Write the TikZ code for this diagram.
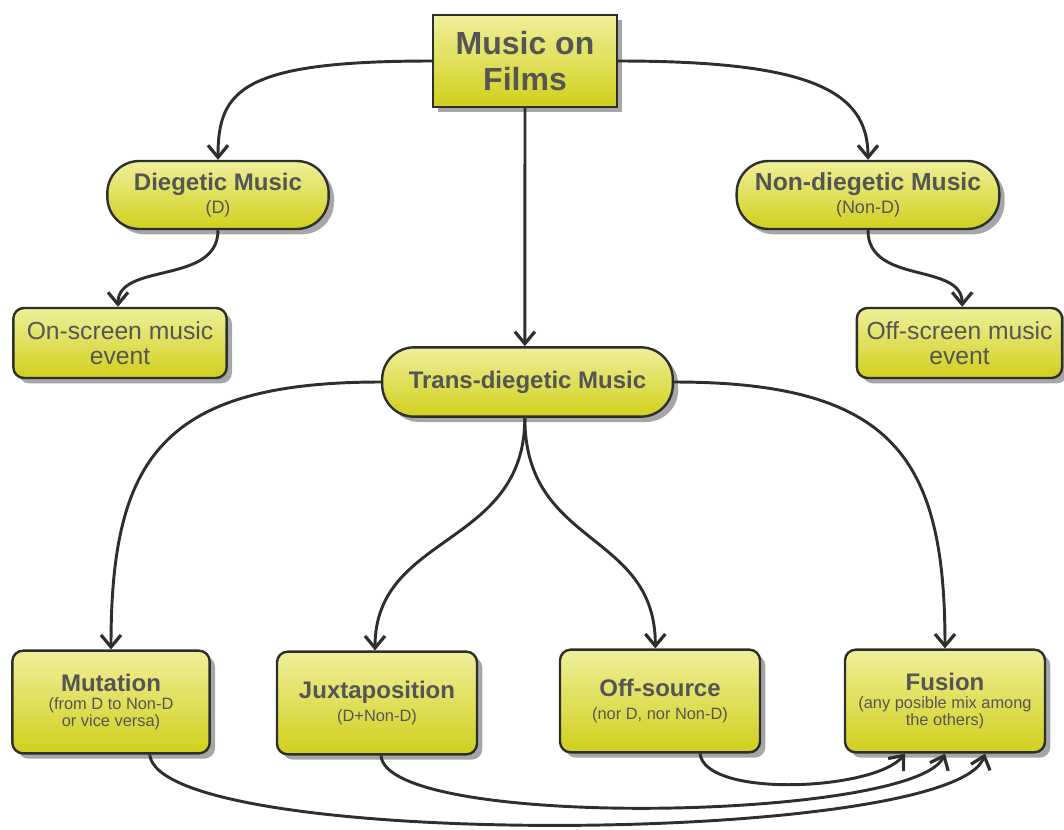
\documentclass[tikz,border=0pt]{standalone}
\usepackage{fontspec}
\setmainfont{Liberation Sans}
\usetikzlibrary{arrows.meta,shadows}
\definecolor{txt}{HTML}{555555}
\definecolor{ln}{HTML}{2E2E2E}
\definecolor{ytop}{HTML}{EFEF9A}
\definecolor{ybot}{HTML}{D0D01C}
\newcommand\ttlf{\fontsize{24}{27.5}\selectfont\bfseries}
\newcommand\mainf{\fontsize{18}{19}\selectfont\bfseries}
\newcommand\plainf{\fontsize{18.5}{19}\selectfont}
\newcommand\subtf{\fontsize{13.5}{15}\selectfont}
\newcommand\subbf{\fontsize{12.3}{13}\selectfont}
\tikzset{
  box/.style={draw=ln, line width=1.8pt, top color=ytop, bottom color=ybot,
    text=txt, align=center, inner sep=2pt,
    drop shadow={shadow xshift=4pt, shadow yshift=-4pt, fill=black!50, opacity=0.7}},
  pill/.style={box, rounded corners=24pt},
  rbox/.style={box, rounded corners=8pt},
  conn/.style={draw=ln, line width=2.2pt,
    -{Straight Barb[length=9pt,width=15pt,line width=2.4pt]}}
}
\begin{document}
\begin{tikzpicture}[x=0.75pt,y=-0.75pt]
\useasboundingbox (0,0) rectangle (1064,829);
% nodes
\node[box, minimum width=138pt, minimum height=69pt, font=\ttlf] (music) at (525,61)
  {Music on\\Films};
\node[pill, minimum width=166pt, minimum height=51pt, font=\subtf] (dieg) at (218,195)
  {{\mainf Diegetic Music}\\[2pt](D)};
\node[pill, minimum width=197pt, minimum height=51pt, font=\subtf] (nond) at (868,195)
  {{\fontsize{18.5}{19}\selectfont\bfseries Non-diegetic Music}\\[2pt](Non-D)};
\node[rbox, minimum width=160pt, minimum height=52.5pt, font=\plainf] (onscr) at (120,343)
  {On-screen music\\event};
\node[rbox, minimum width=154pt, minimum height=52.5pt, font=\plainf] (offscr) at (959.5,343)
  {Off-screen music\\event};
\node[pill, minimum width=218pt, minimum height=52pt, font=\mainf] (trans) at (527.5,382)
  {Trans-diegetic Music};
\node[rbox, minimum width=148pt, minimum height=77pt, font=\subbf] (mut) at (111,702)
  {{\mainf Mutation}\\(from D to Non-D\\or vice versa)};
\node[rbox, minimum width=150pt, minimum height=77pt, font=\subbf] (jux) at (377,703)
  {{\mainf Juxtaposition}\\[4pt](D+Non-D)};
\node[rbox, minimum width=150pt, minimum height=77pt, font=\subbf] (offsrc) at (660,701)
  {{\mainf Off-source}\\[4pt](nor D, nor Non-D)};
\node[rbox, minimum width=150pt, minimum height=77pt, font=\subbf] (fus) at (945,701)
  {{\mainf Fusion}\\(any posible mix among\\the others)};
% connectors
\draw[conn] (music.west) .. controls +(-190,0) and +(0,-70) .. (dieg.north);
\draw[conn] (music.east) .. controls +(190,0) and +(0,-70) .. (nond.north);
\draw[conn] (music.south) -- ([xshift=-2pt]trans.north);
\draw[conn] (dieg.south) .. controls +(0,55) and +(0,-45) .. ([xshift=-1.5pt]onscr.north);
\draw[conn] (nond.south) .. controls +(0,55) and +(0,-45) .. ([xshift=2pt]offscr.north);
\draw[conn] (trans.west) .. controls +(-220,0) and +(0,-190) .. (mut.north);
\draw[conn] (trans.east) .. controls +(220,0) and +(0,-190) .. (fus.north);
\draw[conn] ([xshift=-2pt]trans.south) .. controls +(0,130) and +(0,-118) .. ([xshift=-1.5pt]jux.north);
\draw[conn] ([xshift=-2pt]trans.south) .. controls +(0,130) and +(0,-118) .. ([xshift=-3.5pt]offsrc.north);
\draw[conn] ([xshift=30pt]offsrc.south) .. controls +(5,45) and +(-30,37) .. ([xshift=-30pt]fus.south);
\draw[conn] ([xshift=3pt]jux.south) .. controls +(5,75) and +(-30,67) .. (fus.south);
\draw[conn] ([xshift=29pt]mut.south) .. controls +(10,97) and +(-30,92) .. ([xshift=30pt]fus.south);
\end{tikzpicture}
\end{document}
